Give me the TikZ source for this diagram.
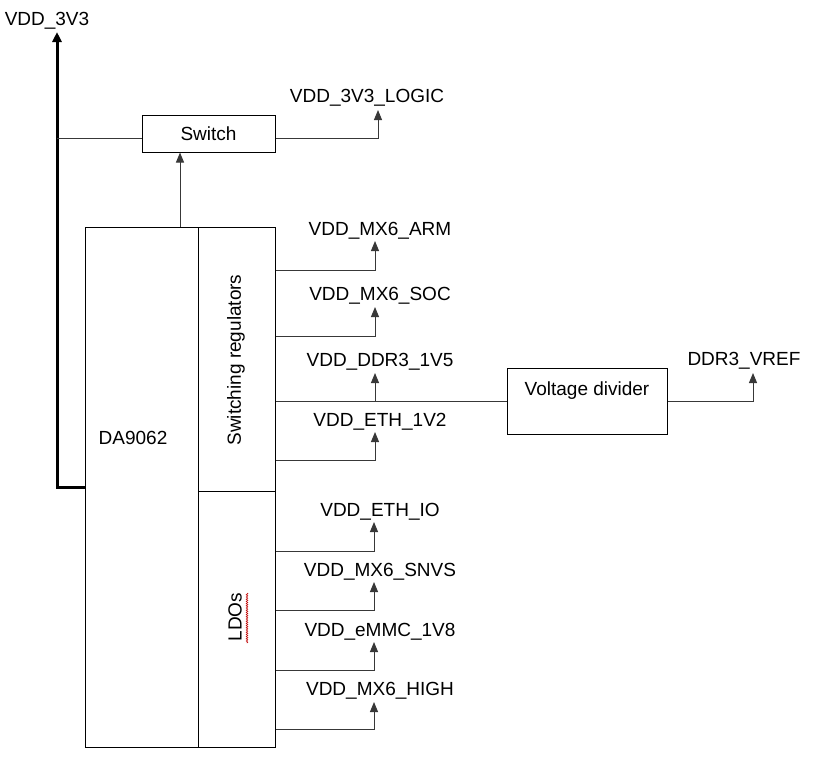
\documentclass[tikz,border=0pt]{standalone}
\usepackage{fontspec}
\setmainfont{Liberation Sans}
\usetikzlibrary{arrows.meta,decorations.pathmorphing}
\begin{document}
\begin{tikzpicture}[x=1pt,y=-1pt,
  box/.style={draw=black,line width=1pt,inner sep=0pt},
  lbl/.style={inner sep=0pt,font=\fontsize{19}{22}\selectfont},
  bl/.style={lbl,anchor=base},
  wire/.style={draw=black!78,line width=1pt},
  arr/.style={wire,-{Triangle[length=10pt,width=8pt]}},
  bus/.style={draw=black,line width=3pt,-{Triangle[length=10pt,width=9pt]}}
]
\useasboundingbox (0,0) rectangle (814,756);

% boxes
\node[box,minimum width=190pt,minimum height=520pt] (da) at (180,487) {};
\node[box,minimum width=77pt,minimum height=264pt] (sr) at (236.5,359) {};
\node[box,minimum width=77pt,minimum height=256pt] (ldo) at (236.5,619) {};
\node[lbl] (tda) at (133,438) {DA9062};
\node[lbl,rotate=90] (tsr) at (236,360) {Switching regulators};
\node[lbl,rotate=90] (tldo) at (235,617) {LDOs};
\draw[red!75!black,line width=0.6pt,decorate,decoration={snake,amplitude=0.8pt,segment length=2.2pt}] (247,593) -- (247,643);

\node[box,minimum width=133pt,minimum height=37pt,font=\fontsize{19}{22}\selectfont] (sw) at (208.5,133.5) {Switch};
\node[box,minimum width=160pt,minimum height=66pt] (vd) at (587,401) {};
\node[bl] (tvd) at (587,395) {Voltage divider};

% labels
\node[bl] (l3v3) at (47,25) {VDD\_3V3};
\node[bl] (llogic) at (367,102) {VDD\_3V3\_LOGIC};
\node[bl] (larm) at (380,235) {VDD\_MX6\_ARM};
\node[bl] (lsoc) at (380,300) {VDD\_MX6\_SOC};
\node[bl] (lddr) at (380,366) {VDD\_DDR3\_1V5};
\node[bl] (leth) at (380,426) {VDD\_ETH\_1V2};
\node[bl] (lvref) at (744,365) {DDR3\_VREF};
\node[bl] (lethio) at (380,516) {VDD\_ETH\_IO};
\node[bl] (lsnvs) at (380,576) {VDD\_MX6\_SNVS};
\node[bl] (lemmc) at (380,636) {VDD\_eMMC\_1V8};
\node[bl] (lhigh) at (380,695) {VDD\_MX6\_HIGH};

% arrow tip coordinates
\coordinate (t3v3) at (57,32);
\coordinate (j) at (57,138);
\coordinate (tlogic) at (378,110);
\coordinate (tarm) at (375,241);
\coordinate (tsoc) at (375,307);
\coordinate (tddr) at (375,373);
\coordinate (teth) at (375,432);
\coordinate (tvref) at (753,373);
\coordinate (tethio) at (374,522);
\coordinate (tsnvs) at (374,582);
\coordinate (temmc) at (374,642);
\coordinate (thigh) at (374,702);

% connectors
\draw[bus] (da.west) -| (t3v3);
\draw[wire] (j) -- (sw.west |- j);
\draw[arr] (da.north) -- (sw.south -| da.north);
\draw[arr] (sw.east |- j) -| (tlogic);

\draw[arr] (sr.east |- 0,270) -| (tarm);
\draw[arr] (sr.east |- 0,336) -| (tsoc);
\draw[wire] (sr.east |- vd.west) -- (vd.west);
\draw[arr] (tddr |- vd.west) -- (tddr);
\draw[arr] (sr.east |- 0,460) -| (teth);
\draw[arr] (vd.east) -| (tvref);

\draw[arr] (ldo.east |- 0,551) -| (tethio);
\draw[arr] (ldo.east |- 0,610) -| (tsnvs);
\draw[arr] (ldo.east |- 0,670) -| (temmc);
\draw[arr] (ldo.east |- 0,729) -| (thigh);
\end{tikzpicture}
\end{document}
